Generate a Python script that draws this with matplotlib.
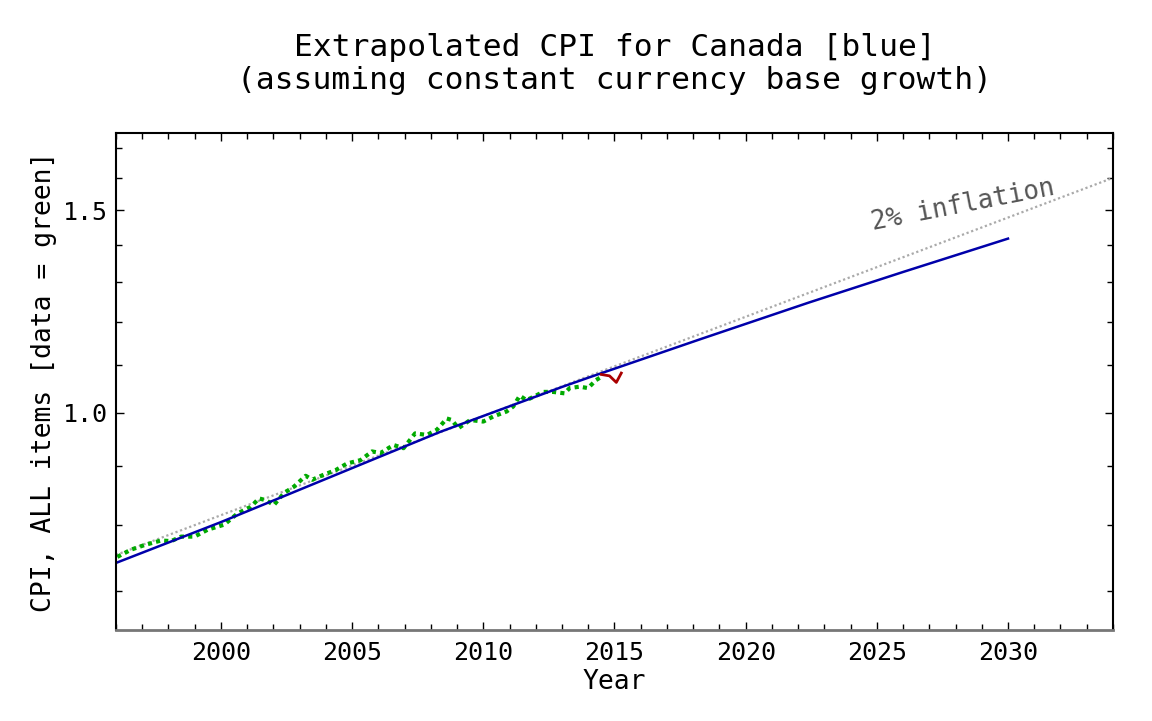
import matplotlib
matplotlib.use("Agg")
import matplotlib.pyplot as plt
from matplotlib.ticker import FixedLocator, FixedFormatter, NullFormatter, MultipleLocator

# CPI data (green = data, red = latest months)
cpi_years = [1996.05, 1996.58, 1997.09, 1997.72, 1998.10, 1998.48, 1998.99, 1999.50,
             2000.13, 2000.63, 2001.14, 2001.45, 2001.71, 2002.02, 2002.40, 2002.78,
             2003.23, 2003.48, 2003.92, 2004.37, 2004.81, 2005.32, 2005.76, 2006.08,
             2006.58, 2006.96, 2007.40, 2007.85, 2008.23, 2008.61, 2008.80, 2009.05,
             2009.50, 2010.00, 2010.38, 2010.89, 2011.14, 2011.39, 2011.65, 2012.03,
             2012.28, 2012.66, 2013.10, 2013.29, 2013.67, 2013.99, 2014.30, 2014.56]
cpi_values = [0.750, 0.761, 0.768, 0.775, 0.774, 0.781, 0.781, 0.792,
              0.800, 0.818, 0.829, 0.843, 0.840, 0.832, 0.852, 0.863,
              0.882, 0.875, 0.884, 0.892, 0.904, 0.910, 0.926, 0.923,
              0.938, 0.932, 0.960, 0.957, 0.967, 0.989, 0.986, 0.970,
              0.986, 0.983, 0.993, 1.003, 1.013, 1.035, 1.026, 1.036,
              1.043, 1.043, 1.040, 1.051, 1.054, 1.051, 1.068, 1.077]

recent_years = [2014.50, 2014.81, 2015.07, 2015.26]
recent_values = [1.080, 1.077, 1.063, 1.083]

# extrapolated CPI (blue)
extrap_years = [1996, 2000, 2008.36, 2013.03, 2014.05, 2018.23, 2022.41, 2026.02, 2030]
extrap_values = [0.741, 0.804, 0.963, 1.054, 1.074, 1.158, 1.247, 1.326, 1.417]

# 2% inflation reference line (gray), endpoints
infl_years = [1996, 2034]
infl_values = [0.753, 1.600]

fig = plt.figure(figsize=(11.52, 7.21), dpi=100)
ax = fig.add_axes([0.1007, 0.1262, 0.8654, 0.6893])

ax.plot(infl_years, infl_values, color="#aaaaaa", lw=1.6, ls=(0, (1, 1.2)))
ax.plot(cpi_years, cpi_values, color="#00aa00", lw=3, ls=(0, (1, 1)))
ax.plot(extrap_years, extrap_values, color="#0000aa", lw=1.8)
ax.plot(recent_years, recent_values, color="#aa0000", lw=2)

ax.set_yscale("log")
ax.set_xlim(1996, 2034)
ax.set_ylim(0.648, 1.75)

ax.yaxis.set_major_locator(FixedLocator([1.0, 1.5]))
ax.yaxis.set_minor_locator(FixedLocator([0.7, 0.8, 0.9, 1.1, 1.2, 1.3, 1.4, 1.6, 1.7]))
ax.yaxis.set_major_formatter(FixedFormatter(["1.0", "1.5"]))
ax.yaxis.set_minor_formatter(NullFormatter())
ax.xaxis.set_major_locator(MultipleLocator(5))
ax.xaxis.set_minor_locator(MultipleLocator(1))

mono = "DejaVu Sans Mono"
ax.tick_params(which="both", direction="in", top=True, right=True, labelsize=18)
ax.tick_params(axis="x", pad=8)
ax.tick_params(axis="y", pad=6)
ax.tick_params(which="major", length=6, width=1)
ax.tick_params(which="minor", length=4, width=1)
for lbl in ax.get_xticklabels() + ax.get_yticklabels():
    lbl.set_family(mono)

for side in ["left", "top", "right"]:
    ax.spines[side].set_color("black")
    ax.spines[side].set_linewidth(1.5)
ax.spines["bottom"].set_color("#777777")
ax.spines["bottom"].set_linewidth(2)

ax.set_xlabel("Year", family=mono, fontsize=19, labelpad=3)
ax.set_ylabel("CPI, ALL items [data = green]", family=mono, fontsize=19, labelpad=4)

ax.text(2028.3, 1.515, "2% inflation", family=mono, fontsize=18.5, color="#555555",
        rotation=11, ha="center", va="center")

# title centred over the axes (axes spans pixel rows 133..630)
ax.text(0.5, (630 - 47) / 497, "Extrapolated CPI for Canada [blue]",
        transform=ax.transAxes, family=mono, fontsize=22.5, ha="center", va="center")
ax.text(0.5, (630 - 80) / 497, "(assuming constant currency base growth)",
        transform=ax.transAxes, family=mono, fontsize=22.5, ha="center", va="center")

fig.savefig("out.png", dpi=100)
